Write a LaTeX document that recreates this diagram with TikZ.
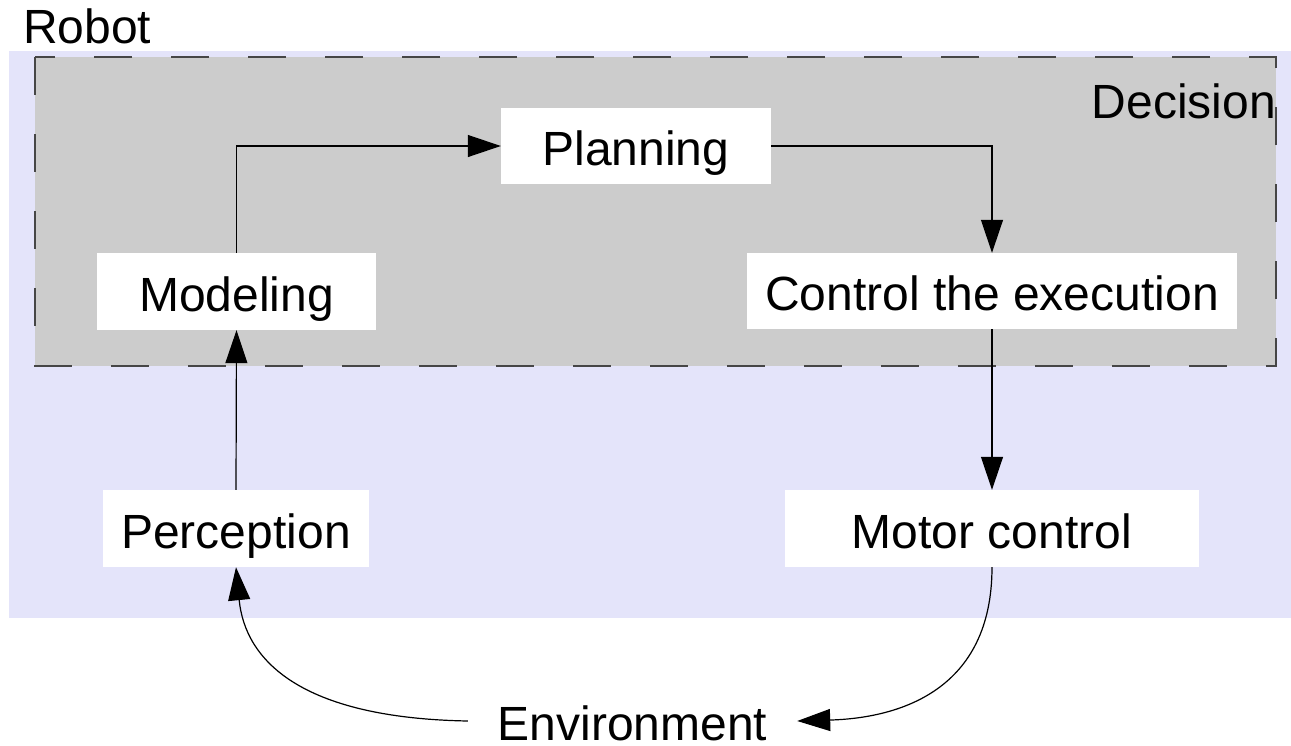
\documentclass[tikz,border=0pt]{standalone}
\usepackage{fontspec}
\setmainfont{Liberation Sans}
\usetikzlibrary{arrows.meta}
\definecolor{robotbg}{RGB}{228,228,250}
\definecolor{decisionbg}{RGB}{204,204,204}
\definecolor{dashcol}{RGB}{70,70,70}
\tikzset{
  lbl/.style={font=\fontsize{48pt}{57pt}\selectfont, inner sep=0pt},
  stepbox/.style={lbl, fill=white, minimum height=77pt, text height=39pt, text depth=0pt},
  conn/.style={draw=black, line width=1.2pt, -{Triangle[length=33pt,width=22pt]}},
}
\begin{document}
\begin{tikzpicture}[x=1pt,y=-1pt]
\useasboundingbox (0,0) rectangle (1291,745);
% containers
\fill[robotbg] (9,51) rectangle (1291,618);
\fill[decisionbg] (35,57) rectangle (1276,366);
\draw[dashcol, line width=1.2pt, dash pattern=on 38pt off 39pt, dash phase=0pt] (35,57) rectangle (1276,366);
\node[lbl, anchor=base west] (robotlbl) at (23,43) {Robot};
\node[lbl, anchor=base east] (decisionlbl) at (1276,118) {Decision};
% boxes
\node[stepbox, minimum width=270pt, minimum height=76pt] (plan) at (636,146) {Planning};
\node[stepbox, minimum width=279pt] (model) at (236.5,291.5) {Modeling};
\node[stepbox, minimum width=490pt, minimum height=76pt] (ctrl) at (992,291) {Control the execution};
\node[stepbox, minimum width=266pt] (perc) at (236,528.5) {Perception};
\node[stepbox, minimum width=414pt] (motor) at (992,528.5) {Motor control};
\node[lbl, minimum width=329pt, text height=39pt, text depth=0pt] (env) at (632.5,721) {Environment};
% connectors
\draw[conn] (perc.north) -- (model.south);
\draw[conn] (model.north) |- (plan.west);
\draw[conn] (plan.east) -| (ctrl.north);
\draw[conn] (ctrl.south) -- (motor.north);
\draw[conn] (motor.south) .. controls (992,690) and (900,718) .. (env.east);
\draw[conn] (env.west) .. controls (300,718) and (245,660) .. (perc.south);
\end{tikzpicture}
\end{document}
